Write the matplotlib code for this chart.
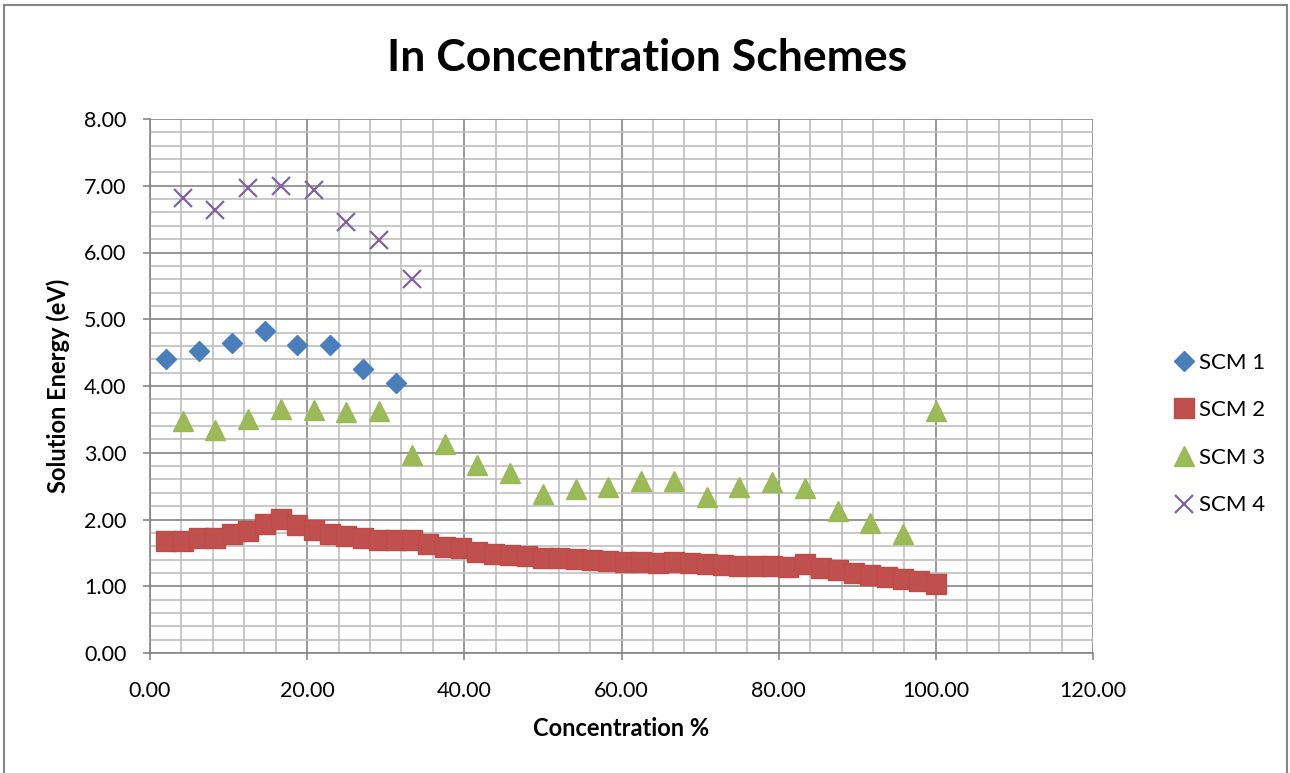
import matplotlib
matplotlib.use("Agg")
import matplotlib.pyplot as plt
from matplotlib.patches import Rectangle
from matplotlib.ticker import MultipleLocator, FormatStrFormatter

plt.rcParams["font.family"] = ["Lato", "DejaVu Sans"]

# concentration steps: SCM 2 every 100/48 %, SCM 3/4 every 100/24 %
step = 100.0 / 48

scm1_x = [step * k for k in (1, 3, 5, 7, 9, 11, 13, 15)]
scm1_y = [4.40, 4.53, 4.65, 4.82, 4.61, 4.61, 4.25, 4.05]

scm2_x = [step * k for k in range(1, 49)]
scm2_y = [1.68, 1.68, 1.72, 1.73, 1.79, 1.83, 1.94, 2.01, 1.92, 1.85,
          1.79, 1.75, 1.72, 1.70, 1.70, 1.69, 1.64, 1.59, 1.57, 1.51,
          1.49, 1.47, 1.46, 1.43, 1.42, 1.41, 1.40, 1.38, 1.37, 1.36,
          1.35, 1.37, 1.35, 1.33, 1.32, 1.31, 1.31, 1.30, 1.29, 1.33,
          1.28, 1.24, 1.20, 1.17, 1.14, 1.11, 1.08, 1.04]

scm3_x = [2 * step * k for k in range(1, 25)]
scm3_y = [3.48, 3.34, 3.50, 3.66, 3.64, 3.61, 3.62, 2.96, 3.13, 2.82,
          2.70, 2.38, 2.45, 2.49, 2.58, 2.58, 2.34, 2.48, 2.56, 2.47,
          2.13, 1.95, 1.78, 3.63]

scm4_x = [2 * step * k for k in range(1, 9)]
scm4_y = [6.81, 6.64, 6.97, 7.00, 6.93, 6.46, 6.19, 5.61]

fig = plt.figure(figsize=(12.9, 7.73), dpi=100)
ax = fig.add_axes([150 / 1290, 1 - 653 / 773, 943 / 1290, 534 / 773])

ax.plot(scm1_x, scm1_y, "D", color="#4A7EBB", ms=10, mec="#4A7EBB", label="SCM 1")
ax.plot(scm2_x, scm2_y, "s", color="#C0504D", ms=14.4, mec="#BE4B48", label="SCM 2")
ax.plot(scm3_x, scm3_y, "^", color="#9BBB59", ms=14.4, mec="#98B954", label="SCM 3")
ax.plot(scm4_x, scm4_y, "x", color="#8064A2", ms=13, mew=1.6, label="SCM 4")

ax.set_xlim(0, 120)
ax.set_ylim(0, 8)
ax.xaxis.set_major_locator(MultipleLocator(20))
ax.xaxis.set_minor_locator(MultipleLocator(4))
ax.yaxis.set_major_locator(MultipleLocator(1))
ax.yaxis.set_minor_locator(MultipleLocator(0.2))
ax.xaxis.set_major_formatter(FormatStrFormatter("%.2f"))
ax.yaxis.set_major_formatter(FormatStrFormatter("%.2f"))

ax.grid(which="minor", color="#BFBFBF", lw=1.2)
ax.grid(which="major", color="#868686", lw=1.2)
ax.set_axisbelow(True)
for side in ("top", "right"):
    ax.spines[side].set_visible(False)
for side in ("left", "bottom"):
    ax.spines[side].set_color("#868686")
    ax.spines[side].set_linewidth(1.2)
ax.tick_params(which="major", length=5, width=1.2, color="#868686",
               labelsize=15.5)
ax.tick_params(axis="y", which="major", pad=12)
ax.tick_params(axis="x", which="major", pad=15)
ax.tick_params(which="minor", length=0)

# title is centred on the whole chart area, not on the plot area
fig.text(647 / 1290, 1 - 58 / 773, "In Concentration Schemes", fontsize=32,
         fontweight="bold", ha="center", va="center")
ax.set_xlabel("Concentration %", fontsize=17, fontweight="bold", labelpad=12)
ax.set_ylabel("Solution Energy (eV)", fontsize=17, fontweight="bold", labelpad=10)

ax.legend(loc="center left", bbox_to_anchor=(1162 / 1290, 1 - 434 / 773),
          bbox_transform=fig.transFigure, frameon=False, fontsize=16,
          handletextpad=0.05, labelspacing=1.24, handlelength=1.2,
          borderaxespad=0)

# chart area border
fig.patches.append(Rectangle((4 / 1290, -0.05), 1283 / 1290, 1 - 5 / 773 + 0.05,
                             transform=fig.transFigure, fill=False,
                             edgecolor="#868686", lw=1.5))

fig.savefig("out.png", dpi=100)
